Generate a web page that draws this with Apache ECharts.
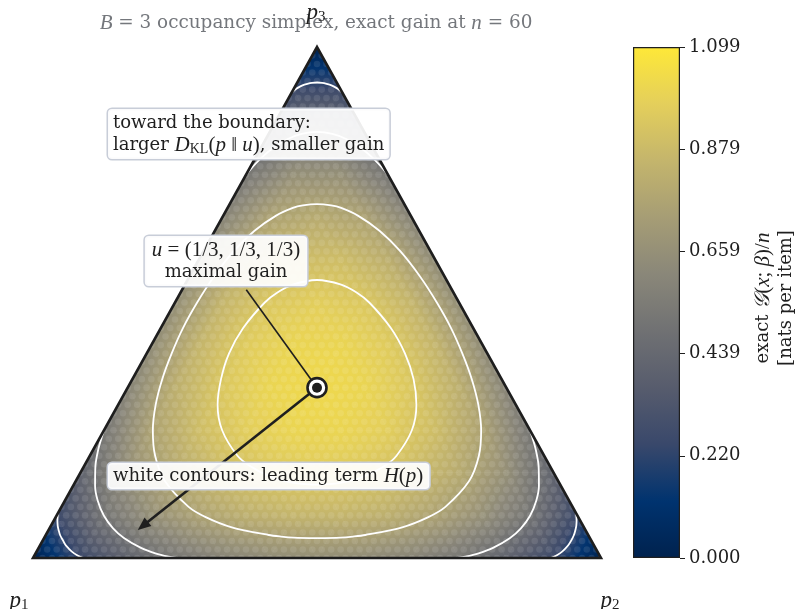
<!DOCTYPE html>
<html><head><meta charset="utf-8">
<script src="https://cdn.jsdelivr.net/npm/echarts@6.0.0/dist/echarts.min.js"></script>
<style>html,body{margin:0;padding:0;background:#fff}#c{width:796px;height:609px}</style>
</head><body><div id="c"></div>
<script>
// ================= DATA =================
// exact gain G(x;beta)/n on a coarse lattice of the simplex, step 1/12.
// row i : p3 = i/12 ; entry j : p2 = j/12 ; p1 = 1 - p2 - p3
const N_LATTICE = 12;
const gainRows = [
  [0.000,0.259,0.417,0.527,0.600,0.641,0.655,0.641,0.600,0.527,0.417,0.259,0.000],
  [0.259,0.510,0.660,0.760,0.823,0.853,0.853,0.823,0.760,0.660,0.510,0.259],
  [0.417,0.660,0.802,0.892,0.942,0.959,0.942,0.892,0.802,0.660,0.417],
  [0.527,0.760,0.892,0.970,1.007,1.007,0.970,0.892,0.760,0.527],
  [0.600,0.823,0.942,1.007,1.027,1.007,0.942,0.823,0.600],
  [0.641,0.853,0.959,1.007,1.007,0.959,0.853,0.641],
  [0.655,0.853,0.942,0.970,0.942,0.853,0.655],
  [0.641,0.823,0.892,0.892,0.823,0.641],
  [0.600,0.760,0.802,0.760,0.600],
  [0.527,0.660,0.660,0.527],
  [0.417,0.510,0.417],
  [0.259,0.259],
  [0.000]
];
// number of items n (lattice of occupancy vectors x/n drawn as faint dots)
const N_ITEMS = 60;

// white contour lines of the leading term H(p), points as [p1,p2,p3]
const contourInner = [
  [0.428,0.428,0.1435],[0.443,0.413,0.144],[0.462,0.392,0.146],[0.479,0.371,0.150],[0.504,0.336,0.160],
  [0.529,0.292,0.180],[0.540,0.260,0.200],[0.542,0.208,0.250],[0.525,0.175,0.300],[0.495,0.156,0.350],
  [0.455,0.145,0.400],[0.405,0.145,0.450],[0.342,0.158,0.500],[0.309,0.171,0.520],[0.275,0.190,0.535],
  [0.228,0.228,0.544],
  [0.190,0.275,0.535],[0.171,0.309,0.520],[0.158,0.342,0.500],[0.145,0.405,0.450],[0.145,0.455,0.400],
  [0.156,0.495,0.350],[0.175,0.525,0.300],[0.208,0.542,0.250],[0.260,0.540,0.200],[0.292,0.529,0.180],
  [0.336,0.504,0.160],[0.371,0.479,0.150],[0.392,0.462,0.146],[0.413,0.443,0.144],[0.428,0.428,0.1435]
];
const contourSecond = [
  [0.481,0.481,0.0387],[0.521,0.439,0.040],[0.542,0.416,0.042],[0.5625,0.3925,0.045],[0.620,0.320,0.060],
  [0.656,0.264,0.080],[0.676,0.224,0.100],[0.6925,0.1575,0.150],[0.685,0.115,0.200],[0.664,0.086,0.250],
  [0.634,0.066,0.300],[0.5975,0.0525,0.350],[0.556,0.044,0.400],[0.511,0.039,0.450],[0.461,0.039,0.500],
  [0.407,0.043,0.550],[0.347,0.053,0.600],[0.2905,0.0695,0.640],[0.237,0.093,0.670],[0.200,0.115,0.685],
  [0.180,0.130,0.690],[0.1537,0.1537,0.6927],
  [0.130,0.180,0.690],[0.115,0.200,0.685],[0.093,0.237,0.670],[0.0695,0.2905,0.640],[0.053,0.347,0.600],
  [0.043,0.407,0.550],[0.039,0.461,0.500],[0.039,0.511,0.450],[0.044,0.556,0.400],[0.0525,0.5975,0.350],
  [0.066,0.634,0.300],[0.086,0.664,0.250],[0.115,0.685,0.200],[0.1575,0.6925,0.150],[0.224,0.676,0.100],
  [0.264,0.656,0.080],[0.320,0.620,0.060],[0.3925,0.5625,0.045],[0.416,0.542,0.042],[0.439,0.521,0.040],
  [0.481,0.481,0.0387]
];
const contourThirdTop = [
  [0.252,0,0.748],[0.2375,0.0025,0.760],[0.2108,0.0092,0.780],[0.1802,0.0198,0.800],[0.1414,0.0386,0.820],
  [0.112,0.058,0.830],[0.0831,0.0831,0.8338],[0.058,0.112,0.830],[0.0386,0.1414,0.820],[0.0198,0.1802,0.800],
  [0.0092,0.2108,0.780],[0.0025,0.2375,0.760],[0,0.252,0.748]
];
const contourThirdLeft = [
  [0.748,0,0.252],[0.760,0.0025,0.2375],[0.780,0.0092,0.2108],[0.800,0.0198,0.1802],[0.820,0.0386,0.1414],
  [0.830,0.058,0.112],[0.8338,0.0831,0.0831],[0.830,0.112,0.058],[0.820,0.1414,0.0386],[0.800,0.1802,0.0198],
  [0.780,0.2108,0.0092],[0.760,0.2375,0.0025],[0.748,0.252,0]
];
const contourThirdRight = [
  [0.252,0.748,0],[0.2375,0.760,0.0025],[0.2108,0.780,0.0092],[0.1802,0.800,0.0198],[0.1414,0.820,0.0386],
  [0.112,0.830,0.058],[0.0831,0.8338,0.0831],[0.058,0.830,0.112],[0.0386,0.820,0.1414],[0.0198,0.800,0.1802],
  [0.0092,0.780,0.2108],[0.0025,0.760,0.2375],[0,0.748,0.252]
];
const contourOuterTop = [
  [0.089,0,0.911],[0.083,0.002,0.915],[0.074,0.006,0.920],[0.063,0.012,0.925],[0.053,0.019,0.928],
  [0.044,0.026,0.930],[0.035,0.035,0.9305],[0.026,0.044,0.930],[0.019,0.053,0.928],[0.012,0.063,0.925],
  [0.006,0.074,0.920],[0.002,0.083,0.915],[0,0.089,0.911]
];
const contourOuterLeft = [
  [0.911,0,0.089],[0.915,0.002,0.083],[0.920,0.006,0.074],[0.925,0.012,0.063],[0.928,0.019,0.053],
  [0.930,0.026,0.044],[0.9305,0.035,0.035],[0.930,0.044,0.026],[0.928,0.053,0.019],[0.925,0.063,0.012],
  [0.920,0.074,0.006],[0.915,0.083,0.002],[0.911,0.089,0]
];
const contourOuterRight = [
  [0.089,0.911,0],[0.083,0.915,0.002],[0.074,0.920,0.006],[0.063,0.925,0.012],[0.053,0.928,0.019],
  [0.044,0.930,0.026],[0.035,0.9305,0.035],[0.026,0.930,0.044],[0.019,0.928,0.053],[0.012,0.925,0.063],
  [0.006,0.920,0.074],[0.002,0.915,0.083],[0,0.911,0.089]
];

// colorbar
const cbMax = 1.09861;
const cbTicks = [0, 0.21972, 0.43944, 0.65917, 0.87889, 1.09861];

// annotation anchors [p1,p2,p3]
const uPoint = [1/3, 1/3, 1/3];
const arrowTip = [0.788, 0.157, 0.055];
const labelAnchor = [0.362, 0.113, 0.525];

// ================= helpers =================
const CIVIDIS = ['#00224e','#00336f','#39486b','#575c6d','#707173','#8a8779','#a69d75','#c4b56c','#e4cf5b','#fee838'];
const CIV_RGB = CIVIDIS.map(h => [1,3,5].map(k => parseInt(h.substr(k,2),16)));
function cmap(v) {
  let t = Math.max(0, Math.min(1, v / cbMax)) * (CIV_RGB.length - 1);
  const i = Math.min(CIV_RGB.length - 2, Math.floor(t)); const f = t - i;
  const a = CIV_RGB[i], b = CIV_RGB[i+1];
  return 'rgb(' + [0,1,2].map(k => Math.round(a[k] + (b[k]-a[k])*f)).join(',') + ')';
}
function tern(p) { return [p[1] + p[2] / 2, p[2]]; }

const triangles = [];
for (let i = 0; i < N_LATTICE; i++) {
  for (let j = 0; j < N_LATTICE - i; j++) {
    triangles.push([[i, j], [i, j + 1], [i + 1, j]]);
    if (j < N_LATTICE - i - 1) triangles.push([[i, j + 1], [i + 1, j + 1], [i + 1, j]]);
  }
}
const latXY = ([i, j]) => [(j + i / 2) / N_LATTICE, i / N_LATTICE];

function renderField(params, api) {
  const tri = triangles[params.dataIndex];
  const P = tri.map(q => api.coord(latXY(q)));
  const v = tri.map(([i, j]) => gainRows[i][j]);
  const d1x = P[1][0]-P[0][0], d1y = P[1][1]-P[0][1], d2x = P[2][0]-P[0][0], d2y = P[2][1]-P[0][1];
  const dv1 = v[1]-v[0], dv2 = v[2]-v[0];
  const det = d1x*d2y - d1y*d2x;
  const a = (dv1*d2y - dv2*d1y) / det, b = (d1x*dv2 - d2x*dv1) / det;
  const g2 = a*a + b*b;
  const vmin = Math.min(...v), vmax = Math.max(...v);
  let fill;
  if (g2 < 1e-14 || vmax - vmin < 1e-6) fill = cmap(vmin);
  else {
    const k = v.indexOf(vmin);
    const s = (vmax - vmin) / g2;
    const x0 = P[k][0], y0 = P[k][1];
    const stops = [];
    for (let q = 0; q <= 4; q++) stops.push({offset: q/4, color: cmap(vmin + (vmax - vmin) * q / 4)});
    fill = new echarts.graphic.LinearGradient(x0, y0, x0 + a*s, y0 + b*s, stops, true);
  }
  return {type: 'polygon', shape: {points: P}, style: {fill: fill, stroke: fill, lineWidth: 0.9}, silent: true};
}

const latticeDots = [];
for (let k3 = 0; k3 <= N_ITEMS; k3++)
  for (let k2 = 0; k2 <= N_ITEMS - k3; k2++) latticeDots.push([(k2 + k3 / 2) / N_ITEMS, k3 / N_ITEMS]);

const SERIF = 'DejaVu Serif';
const MATH = 'Liberation Serif';
const INK = '#1f1f1f';
const GREY = '#74777c';
const richBase = {
  t: {fontFamily: SERIF, fontSize: 18, fill: INK},
  m: {fontFamily: MATH, fontStyle: 'italic', fontSize: 21, fill: INK},
  r: {fontFamily: MATH, fontSize: 21, fill: INK},
  s: {fontFamily: MATH, fontSize: 14, fill: INK, verticalAlign: 'bottom'},
  P: {fontFamily: MATH, fontStyle: 'italic', fontSize: 23, fill: INK},
  S: {fontFamily: MATH, fontSize: 15, fill: INK, verticalAlign: 'bottom'}
};
const boxStyle = {backgroundColor: 'rgba(255,255,255,0.92)', borderColor: '#c8cdd8', borderWidth: 1.5, borderRadius: 4};

function contourSeries(pts) {
  return {type: 'line', xAxisIndex: 0, yAxisIndex: 0, data: pts.map(tern), symbol: 'none', smooth: 0.3,
    lineStyle: {color: '#ffffff', width: 1.8}, silent: true, z: 3, animation: false};
}

const chart = echarts.init(document.getElementById('c'));
chart.setOption({
  animation: false,
  grid: [
    {left: 33, top: 47, width: 568, height: 511},
    {left: 633, top: 47, width: 47, height: 511}
  ],
  xAxis: [
    {type: 'value', gridIndex: 0, min: 0, max: 1, show: false},
    {type: 'category', gridIndex: 1, data: [''], show: false}
  ],
  yAxis: [
    {type: 'value', gridIndex: 0, min: 0, max: 1, show: false},
    {type: 'value', gridIndex: 1, position: 'right', min: 0, max: cbMax,
     splitLine: {show: false}, axisLine: {show: false},
     axisTick: {show: true, length: 5, lineStyle: {color: INK, width: 1}, customValues: cbTicks},
     axisLabel: {show: true, margin: 9, color: INK, fontFamily: SERIF, fontSize: 18,
       customValues: cbTicks, formatter: v => v.toFixed(3)}}
  ],
  series: [
    {type: 'custom', xAxisIndex: 0, yAxisIndex: 0, renderItem: renderField, z: 1,
     data: triangles.map(t => { const c = t.map(latXY); return [(c[0][0]+c[1][0]+c[2][0])/3, (c[0][1]+c[1][1]+c[2][1])/3]; }),
     silent: true},
    {type: 'scatter', xAxisIndex: 0, yAxisIndex: 0, data: latticeDots, symbolSize: 6.6, z: 2, silent: true,
     itemStyle: {color: 'rgba(255,255,255,0.12)'}},
    contourSeries(contourInner), contourSeries(contourSecond),
    contourSeries(contourThirdTop), contourSeries(contourThirdLeft), contourSeries(contourThirdRight),
    contourSeries(contourOuterTop), contourSeries(contourOuterLeft), contourSeries(contourOuterRight),
    {type: 'custom', xAxisIndex: 0, yAxisIndex: 0, z: 4, silent: true, data: [[0.5, 0.5]],
     renderItem: (params, api) => ({type: 'polygon',
       shape: {points: [api.coord(tern([1,0,0])), api.coord(tern([0,1,0])), api.coord(tern([0,0,1]))]},
       style: {fill: 'none', stroke: '#1e1e1e', lineWidth: 2.6, lineJoin: 'miter'}})},
    {type: 'custom', xAxisIndex: 0, yAxisIndex: 0, z: 5, silent: true, data: [tern(uPoint)],
     renderItem: (params, api) => {
       const c = api.coord(tern(uPoint)), t = api.coord(tern(arrowTip)), a = api.coord(tern(labelAnchor));
       const dx = t[0]-c[0], dy = t[1]-c[1], L = Math.hypot(dx, dy), ux = dx/L, uy = dy/L;
       const hl = 13, hw = 5.5, bx = t[0]-ux*hl, by = t[1]-uy*hl, nx = -uy, ny = ux;
       return {type: 'group', children: [
         {type: 'line', shape: {x1: a[0], y1: a[1], x2: c[0], y2: c[1]}, style: {stroke: INK, lineWidth: 1.6}},
         {type: 'line', shape: {x1: c[0], y1: c[1], x2: bx+ux*2, y2: by+uy*2}, style: {stroke: INK, lineWidth: 2.6}},
         {type: 'polygon', shape: {points: [t, [bx+nx*hw, by+ny*hw], [bx-nx*hw, by-ny*hw]]}, style: {fill: INK}},
         {type: 'circle', shape: {cx: c[0], cy: c[1], r: 9.5}, style: {fill: '#fff', stroke: INK, lineWidth: 2.6}},
         {type: 'circle', shape: {cx: c[0], cy: c[1], r: 5}, style: {fill: INK}}
       ]};
     }},
    {type: 'bar', xAxisIndex: 1, yAxisIndex: 1, data: [cbMax], barWidth: '100%', silent: true, z: 2,
     itemStyle: {borderColor: INK, borderWidth: 1.2,
       color: new echarts.graphic.LinearGradient(0, 1, 0, 0, CIVIDIS.map((c, k) => ({offset: k/(CIVIDIS.length-1), color: c})))}}
  ],
  graphic: [
    {type: 'text', z: 100, x: 316, y: 23, style: {text: '{m|B}{t| = 3 occupancy simplex, exact gain at }{m|n}{t| = 60}',
      textAlign: 'center', verticalAlign: 'middle',
      rich: {t: {fontFamily: SERIF, fontSize: 18.4, fill: GREY}, m: {fontFamily: MATH, fontStyle: 'italic', fontSize: 21, fill: GREY}}}},
    {type: 'text', z: 101, x: 316, y: 13, style: {text: '{P|p}{S|3}', textAlign: 'center', verticalAlign: 'middle', rich: richBase}},
    {type: 'text', z: 101, x: 19, y: 601, style: {text: '{P|p}{S|1}', textAlign: 'center', verticalAlign: 'middle', rich: richBase}},
    {type: 'text', z: 101, x: 610, y: 601, style: {text: '{P|p}{S|2}', textAlign: 'center', verticalAlign: 'middle', rich: richBase}},
    {type: 'text', z: 100, x: 108, y: 109, style: Object.assign({
      text: '{t|toward the boundary:}\n{t|larger }{m|D}{s|KL}{r|(}{m|p}{r| ‖ }{m|u}{r|)}{t|, smaller gain}',
      textAlign: 'left', verticalAlign: 'top', lineHeight: 22, padding: [3, 5, 3, 5], rich: richBase}, boxStyle)},
    {type: 'text', z: 100, x: 226, y: 236, style: Object.assign({
      text: '{m|u}{r| = (1/3, 1/3, 1/3)}\n{t|maximal gain}',
      textAlign: 'center', verticalAlign: 'top', lineHeight: 22, padding: [3, 7, 3, 7], rich: richBase}, boxStyle)},
    {type: 'text', z: 100, x: 108, y: 463, style: Object.assign({
      text: '{t|white contours: leading term }{m|H}{r|(}{m|p}{r|)}',
      textAlign: 'left', verticalAlign: 'top', lineHeight: 21, padding: [3, 6, 2, 5], rich: richBase}, boxStyle)},
    {type: 'text', z: 100, x: 775, y: 298, rotation: Math.PI / 2, style: {
      text: '{t|exact }{m|𝒢}{r|(}{m|x}{r|; }{m|β}{r|)/}{m|n}\n{t|[nats per item]}',
      textAlign: 'center', verticalAlign: 'middle', lineHeight: 23, rich: richBase}}
  ]
});
</script></body></html>
